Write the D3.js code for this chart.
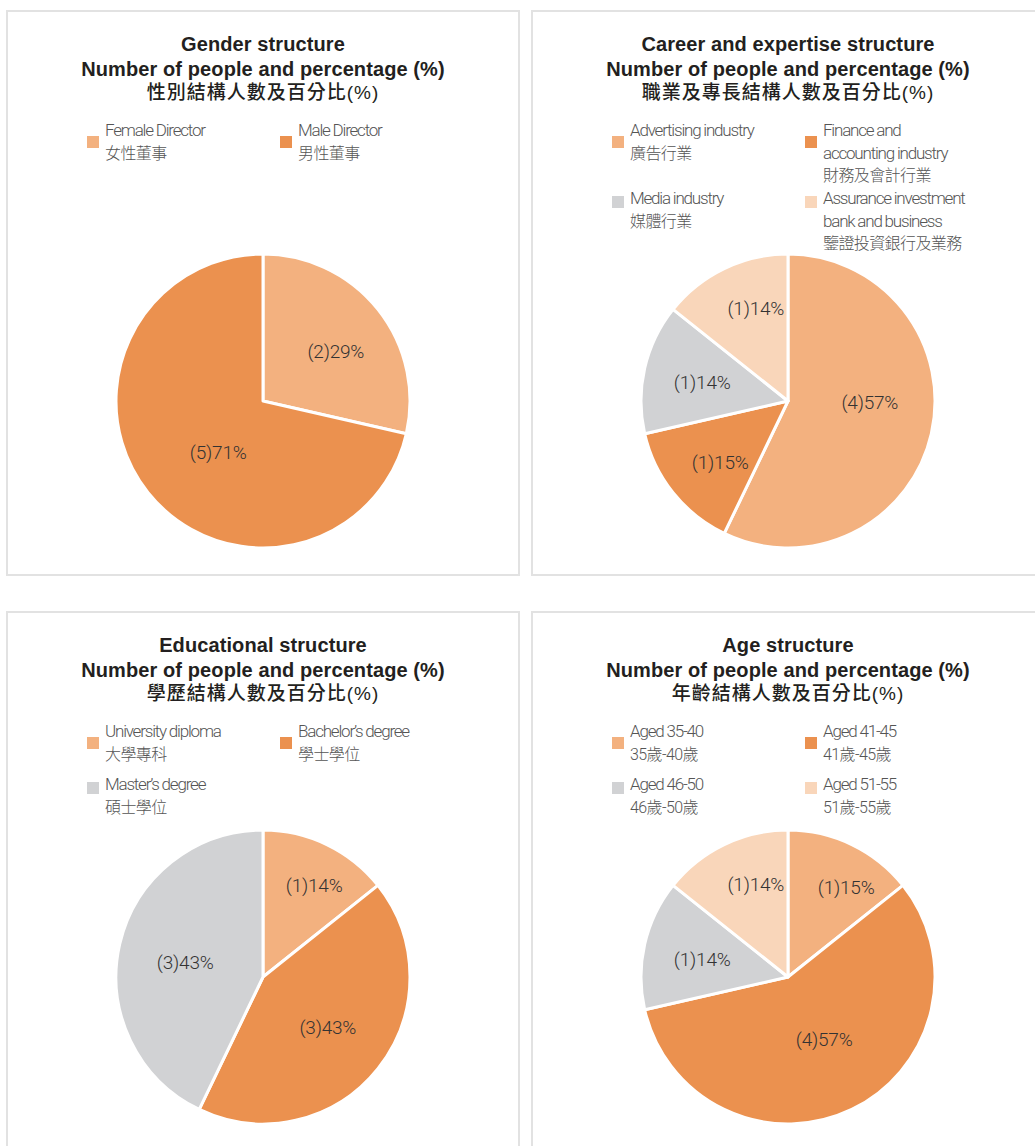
<!DOCTYPE html>
<html>
<head>
<meta charset="utf-8">
<script src="https://cdn.jsdelivr.net/npm/d3@7"></script>
<style>
  html, body { margin: 0; padding: 0; background: #fff; }
  svg { display: block; }
</style>
</head>
<body>
<svg id="chart" width="1035" height="1146"></svg>
<script>
// ---------------- DATA ----------------
const colors = ["#F3B17F", "#EB914F", "#D1D2D4", "#F9D6BA"];

const genderTitle = ["Gender structure", "Number of people and percentage (%)", "性別結構人數及百分比(%)"];
const genderNamesEn = [["Female Director"], ["Male Director"]];
const genderNamesZh = ["女性董事", "男性董事"];
const genderCounts = [2, 5];
const genderPct = [29, 71];

const careerTitle = ["Career and expertise structure", "Number of people and percentage (%)", "職業及專長結構人數及百分比(%)"];
const careerNamesEn = [["Advertising industry"], ["Finance and", "accounting industry"], ["Media industry"], ["Assurance investment", "bank and business"]];
const careerNamesZh = ["廣告行業", "財務及會計行業", "媒體行業", "鑒證投資銀行及業務"];
const careerCounts = [4, 1, 1, 1];
const careerPct = [57, 15, 14, 14];

const eduTitle = ["Educational structure", "Number of people and percentage (%)", "學歷結構人數及百分比(%)"];
const eduNamesEn = [["University diploma"], ["Bachelor’s degree"], ["Master’s degree"]];
const eduNamesZh = ["大學專科", "學士學位", "碩士學位"];
const eduCounts = [1, 3, 3];
const eduPct = [14, 43, 43];

const ageTitle = ["Age structure", "Number of people and percentage (%)", "年齡結構人數及百分比(%)"];
const ageNamesEn = [["Aged 35-40"], ["Aged 41-45"], ["Aged 46-50"], ["Aged 51-55"]];
const ageNamesZh = ["35歲-40歲", "41歲-45歲", "46歲-50歲", "51歲-55歲"];
const ageCounts = [1, 4, 1, 1];
const agePct = [15, 57, 14, 14];

// ---------------- LAYOUT ----------------
const panels = [
  { title: genderTitle, en: genderNamesEn, zh: genderNamesZh, counts: genderCounts, pct: genderPct,
    box: [6, 10], pieY: 391, rowY: [126, 194], nudge: [[4, 5], [24, -4]] },
  { title: careerTitle, en: careerNamesEn, zh: careerNamesZh, counts: careerCounts, pct: careerPct,
    box: [531, 10], pieY: 391, rowY: [126, 194], nudge: [[-4, -18], [1, 6], [0, 1], [6, -13]] },
  { title: eduTitle, en: eduNamesEn, zh: eduNamesZh, counts: eduCounts, pct: eduPct,
    box: [6, 611], pieY: 366, rowY: [126, 179], nudge: [[13, -12], [-4, -5], [8, 5]] },
  { title: ageTitle, en: ageNamesEn, zh: ageNamesZh, counts: ageCounts, pct: agePct,
    box: [531, 611], pieY: 366, rowY: [126, 179], nudge: [[20, -10], [-2, -17], [0, 2], [6, -13]] }
];

const boxW = 514, boxH = 566;
const R = 147, labelR = 88;
const lineH = 22.5;

const svg = d3.select("#chart");
const pie = d3.pie().sort(null).value(d => d).startAngle(0).endAngle(2 * Math.PI);
const arc = d3.arc().innerRadius(0).outerRadius(R);
const labelArc = d3.arc().innerRadius(labelR).outerRadius(labelR);
const color = d3.scaleOrdinal().domain(d3.range(4)).range(colors);

panels.forEach(p => {
  const [bx, by] = p.box;
  const cx = bx + 257;
  const g = svg.append("g");

  g.append("rect")
    .attr("x", bx + 1).attr("y", by + 1)
    .attr("width", boxW - 2).attr("height", boxH - 2)
    .attr("fill", "none").attr("stroke", "#e2e2e2").attr("stroke-width", 2);

  // titles
  const tY = [41, 66, 89];
  p.title.forEach((t, i) => {
    g.append("text")
      .attr("x", cx).attr("y", by + tY[i])
      .attr("text-anchor", "middle")
      .attr("fill", "#231f20")
      .style("font-family", i < 2 ? "'Liberation Sans', Arial, sans-serif" : "'Liberation Sans', 'Noto Sans CJK TC', sans-serif")
      .style("font-weight", i < 2 ? 700 : 500)
      .style("font-size", i < 2 ? "20px" : "19px")
      .style("letter-spacing", i < 2 ? "0.1px" : "1px")
      .text(t);
  });

  // legend
  p.counts.forEach((c, i) => {
    const col = i % 2, row = Math.floor(i / 2);
    const sx = cx + (col === 0 ? -176 : 17);
    const baseY = by + p.rowY[row];
    const swY = row === 0 ? baseY : baseY - 8;
    g.append("rect")
      .attr("x", sx).attr("y", swY)
      .attr("width", 12).attr("height", 12)
      .attr("fill", color(i));
    const lines = p.en[i].concat([p.zh[i]]);
    const txt = g.append("text")
      .attr("x", sx + 18).attr("y", baseY)
      .attr("fill", "#555")
      .style("font-family", "Roboto, 'Noto Sans CJK TC', sans-serif")
      .style("font-weight", 300);
    lines.forEach((l, k) => {
      const isZh = k === lines.length - 1;
      txt.append("tspan")
        .attr("x", sx + 18)
        .attr("y", baseY + k * lineH)
        .style("font-size", isZh ? "16px" : "17px")
        .style("letter-spacing", isZh ? "-0.6px" : "-1.2px")
        .text(l);
    });
  });

  // pie
  const pg = g.append("g").attr("transform", `translate(${cx},${by + p.pieY})`);
  const arcs = pie(p.counts);
  pg.selectAll("path")
    .data(arcs)
    .join("path")
    .attr("d", arc)
    .attr("fill", (d, i) => color(i))
    .attr("stroke", "#fff")
    .attr("stroke-width", 3)
    .attr("stroke-linejoin", "round");

  pg.selectAll("text.lbl")
    .data(arcs)
    .join("text")
    .attr("class", "lbl")
    .attr("transform", (d, i) => {
      const [x, y] = labelArc.centroid(d);
      return `translate(${x + p.nudge[i][0]},${y + p.nudge[i][1]})`;
    })
    .attr("text-anchor", "middle")
    .attr("dy", "0.35em")
    .attr("fill", "#333")
    .style("font-family", "Roboto, sans-serif")
    .style("font-weight", 300)
    .style("font-size", "19px")
    .style("letter-spacing", "-0.2px")
    .text((d, i) => `(${p.counts[i]})${p.pct[i]}%`);
});
</script>
</body>
</html>
